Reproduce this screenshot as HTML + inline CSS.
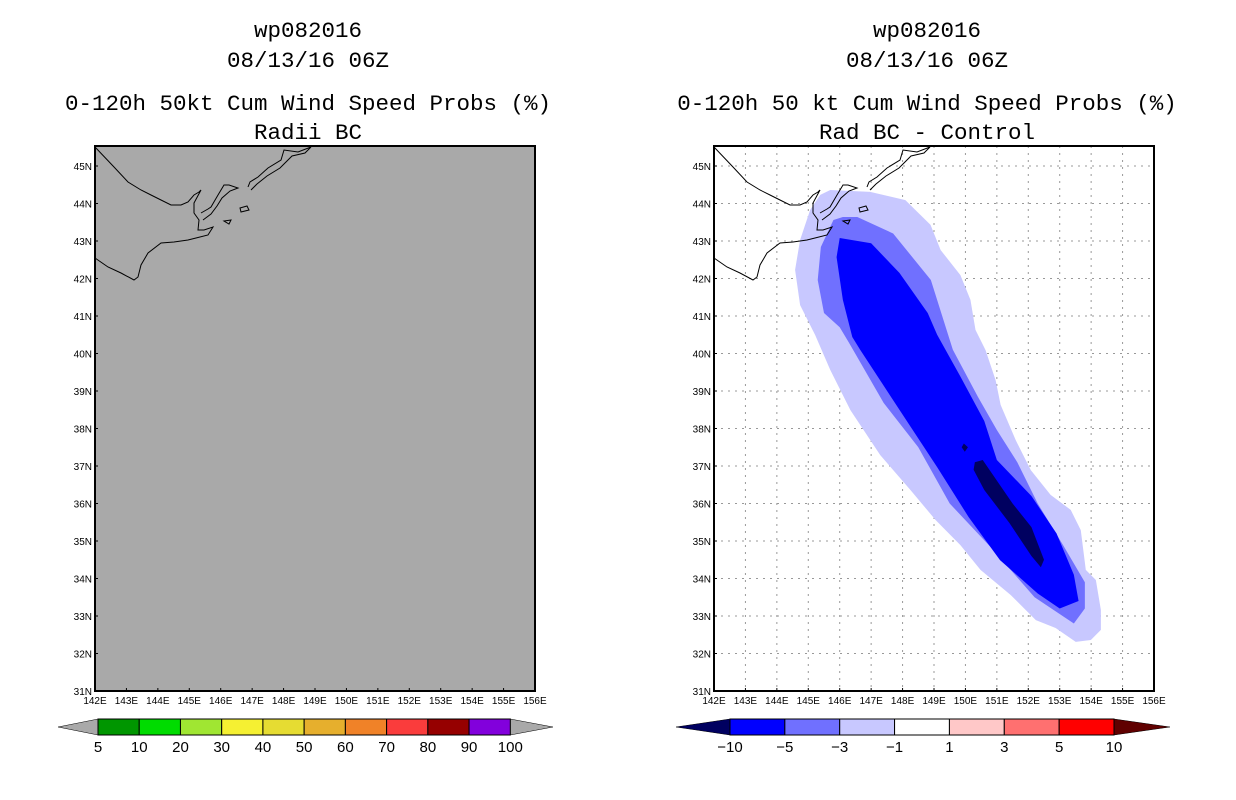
<!DOCTYPE html>
<html><head><meta charset="utf-8">
<style>
html,body{margin:0;padding:0;background:#fff;}
svg{display:block;font-family:"Liberation Sans",sans-serif;}
.t{font-size:22.5px;text-anchor:middle;fill:#000;font-family:"Liberation Mono",monospace;}
.tk{font-size:10px;fill:#000;}
</style></head>
<body>
<svg id="chart" width="1236" height="800" viewBox="0 0 1236 800"></svg>
<script>
// ---- data ----
const lonTicks = [142,143,144,145,146,147,148,149,150,151,152,153,154,155,156];
const latTicks = [31,32,33,34,35,36,37,38,39,40,41,42,43,44,45];
const leftLevels = ['5','10','20','30','40','50','60','70','80','90','100'];
const leftColors = ['#009600','#00dc00','#a0e632','#f5f032','#e6dc32','#e6af2d','#f08228','#fa3c3c','#960000','#8200dc'];
const rightLevels = ['-10','-5','-3','-1','1','3','5','10'];
const rightColors = ['#0000ff','#7070ff','#c8c8ff','#ffffff','#ffc8c8','#ff7070','#ff0000'];
// contour polygons (lon, lat) of difference field
const contourM1 = [[145.70,44.36],[146.97,44.31],[148.09,44.09],[148.89,43.43],[149.21,42.76],[149.84,42.09],[150.16,41.43],[150.32,40.63],[150.64,40.09],[150.96,39.29],[151.12,38.63],[151.60,37.69],[152.08,36.89],[152.71,36.23],[153.35,35.83],[153.67,35.29],[153.83,34.23],[154.15,33.96],[154.31,33.16],[154.31,32.63],[153.99,32.36],[153.51,32.31],[152.87,32.68],[152.24,32.89],[151.44,33.56],[150.48,34.23],[149.84,34.89],[149.05,35.56],[148.25,36.36],[147.29,37.29],[146.34,38.49],[145.70,39.56],[145.22,40.49],[144.74,41.29],[144.58,42.23],[144.74,43.03],[145.06,43.83],[145.38,44.23]];
const contourM3 = [[146.1,43.64],[146.56,43.64],[147.7,43.2],[148.9,41.96],[149.4,40.63],[149.6,40.1],[150.4,38.84],[151.0,37.96],[151.65,37.1],[152.3,36.0],[153.1,34.9],[153.8,33.9],[153.8,33.2],[153.45,32.8],[152.2,33.5],[150.8,34.84],[149.5,36.0],[148.5,37.5],[147.4,38.68],[146.3,40.28],[146.0,40.7],[145.5,41.08],[145.3,41.96],[145.4,42.84],[145.8,43.56]];
const contourM5 = [[146.0,43.08],[147.0,42.94],[147.9,42.15],[148.8,41.08],[149.1,40.5],[149.85,39.37],[150.6,38.2],[151.0,37.16],[152.1,36.2],[152.9,35.2],[153.45,34.1],[153.6,33.4],[153.0,33.2],[152.3,33.6],[151.1,34.49],[150.1,35.64],[149.1,36.97],[147.9,38.5],[146.65,40.1],[146.4,40.44],[146.1,41.43],[145.9,42.57]];
const contourM10 = [[150.3,37.1],[150.55,37.16],[151.5,36.0],[152.1,35.37],[152.5,34.5],[152.4,34.3],[152.1,34.6],[151.4,35.48],[150.6,36.36],[150.26,36.9]];
const contourM10b = [[149.95,37.6],[150.08,37.5],[149.98,37.38],[149.88,37.5]];
// coastline (offsets relative to plot origin, geographic outline)
const coastA = [[0,1],[19,21],[33,36],[46,44],[56,49],[66,54],[76,59],[86,59],[93,56],[99,49],[104,46],[106,44],[99,57],[99,67],[104,74],[103,84],[109,84],[118,81],[113,89],[101,92],[93,94],[79,96],[66,97],[53,107],[46,119],[43,131],[39,134],[26,127],[13,121],[0,112]];
const coastB = [[106,67],[113,63],[116,61],[123,49],[129,39],[134,39],[143,42],[135,45],[127,52],[122,60],[116,68],[108,74]];
const coastC = [[153,41],[155,36],[163,31],[173,22],[186,14],[189,4],[203,6],[216,1],[210,7],[197,10],[185,22],[172,30],[162,38],[156,44]];
const isl1 = [[145,62],[152,60],[154,64],[146,66]];
const isl2 = [[129,75],[136,74],[134,78]];

// ---- drawing ----
const NS='http://www.w3.org/2000/svg';
const svg=document.getElementById('chart');
function mk(tag,attrs,parent){const e=document.createElementNS(NS,tag);for(const k in attrs)e.setAttribute(k,attrs[k]);(parent||svg).appendChild(e);return e;}
const PW=440, PH=545, Y0=146;
const lonMin=142, lonMax=156, latMin=31, latTop=31+545/37.5;
function xS(x0,lon){return x0+(lon-lonMin)/(lonMax-lonMin)*PW;}
function yS(lat){return Y0+PH-(lat-latMin)/(latTop-latMin)*PH;}

function title(cx,lines,name){
  const ys=[37,67,110,139];
  lines.forEach((s,i)=>{const t=mk('text',{x:cx,y:ys[i],class:'t'});t.textContent=s;
    
    });
}
function axes(x0,grid,name){
  if(grid){
    lonTicks.forEach(l=>{if(l>lonMin&&l<lonMax){const ln=mk('line',{x1:xS(x0,l),x2:xS(x0,l),y1:Y0,y2:Y0+PH,stroke:'#999','stroke-width':1,'stroke-dasharray':'2,5'});
      
      }});
    latTicks.forEach(l=>{if(l>latMin){const ln=mk('line',{x1:x0,x2:x0+PW,y1:yS(l),y2:yS(l),stroke:'#999','stroke-width':1,'stroke-dasharray':'2,5'});
      
      }});
  }
  lonTicks.forEach(l=>{const t=mk('text',{x:xS(x0,l),y:704,class:'tk','text-anchor':'middle'});t.textContent=l+'E';
    
    
    mk('line',{x1:xS(x0,l),x2:xS(x0,l),y1:Y0+PH,y2:Y0+PH-3,stroke:'#000'});});
  latTicks.forEach(l=>{const t=mk('text',{x:x0-3,y:yS(l)+4,class:'tk','text-anchor':'end'});t.textContent=l+'N';
    
    
    mk('line',{x1:x0,x2:x0+3,y1:yS(l),y2:yS(l),stroke:'#000'});});
  const b=mk('rect',{x:x0,y:Y0,width:PW,height:PH,fill:'none',stroke:'#000','stroke-width':2});
  
  
}
function coast(x0,g){
  [coastA,coastB,coastC].forEach(c=>{mk('polyline',{points:c.map(p=>(x0+p[0])+','+(Y0+p[1])).join(' '),fill:'none',stroke:'#000','stroke-width':1},g);});
  [isl1,isl2].forEach(c=>{mk('polygon',{points:c.map(p=>(x0+p[0])+','+(Y0+p[1])).join(' '),fill:'none',stroke:'#000','stroke-width':1},g);});
}
function poly(x0,arr,fill,name){const p=mk('polygon',{points:arr.map(p=>xS(x0,p[0])+','+yS(p[1])).join(' '),fill:fill});
  
  }
function colorbar(xs,labels,colors,leftTri,rightTri,leftCol,rightCol,name){
  const y1=719,y2=735,ym=727;
  const lt=mk('polygon',{points:`${leftTri},${ym} ${xs[0]},${y1} ${xs[0]},${y2}`,fill:leftCol,stroke:'#000','stroke-width':0.5});
  
  
  const n=xs.length-1;
  const rt=mk('polygon',{points:`${rightTri},${ym} ${xs[n]},${y1} ${xs[n]},${y2}`,fill:rightCol,stroke:'#000','stroke-width':0.5});
  
  
  colors.forEach((c,i)=>{const r=mk('rect',{x:xs[i],y:y1,width:xs[i+1]-xs[i],height:y2-y1,fill:c,stroke:'#000','stroke-width':1});
    
    });
  labels.forEach((s,i)=>{const t=mk('text',{x:xs[i],y:752,'font-size':15,'text-anchor':'middle'});t.textContent=s.replace('-','\u2212');
    
    });
}

// left panel
const XL=95, XR=714;
title(308,['wp082016','08/13/16 06Z','0-120h 50kt Cum Wind Speed Probs (%)','Radii BC'],'left-title');
const bg=mk('rect',{x:XL,y:Y0,width:PW,height:PH,fill:'#a9a9a9'});


const gL=mk('g',{});
coast(XL,gL);
axes(XL,false,'left-map');
const lxs=leftLevels.map((_,i)=>98+i*(510.3-98)/10);
colorbar(lxs,leftLevels,leftColors,58,553,'#a9a9a9','#a9a9a9','left-colorbar');

// right panel
title(927,['wp082016','08/13/16 06Z','0-120h 50 kt Cum Wind Speed Probs (%)','Rad BC - Control'],'right-title');
axes(XR,true,'right-map');
poly(XR,contourM1,'#c8c8ff','contour-minus1');
poly(XR,contourM3,'#7070ff','contour-minus3');
poly(XR,contourM5,'#0000ff','contour-minus5');
poly(XR,contourM10,'#000060','contour-minus10');
poly(XR,contourM10b,'#000060','contour-minus10-spot');
const gR=mk('g',{});
coast(XR,gR);
const fr=mk('rect',{x:XR,y:Y0,width:PW,height:PH,fill:'none',stroke:'#000','stroke-width':2});


const rxs=rightLevels.map((_,i)=>730+i*(1114-730)/7);
colorbar(rxs,rightLevels,rightColors,676,1170,'#000060','#600000','right-colorbar');
</script>
</body></html>
